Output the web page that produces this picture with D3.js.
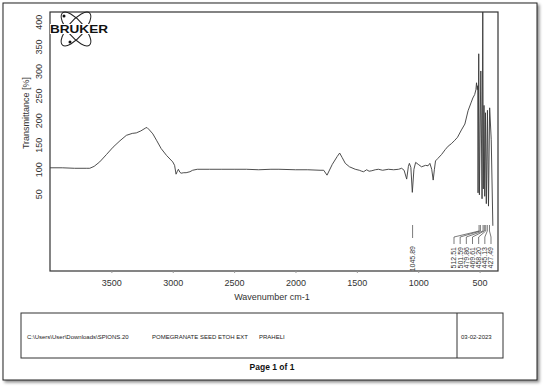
<!DOCTYPE html>
<html>
<head>
<meta charset="utf-8">
<script src="https://cdn.jsdelivr.net/npm/d3@7"></script>
<style>
  body { margin: 0; background: #fff; }
  svg { display: block; font-family: "Liberation Sans", Arial, sans-serif; }
</style>
</head>
<body>
<div id="chart"></div>
<script>
// spectrum (wavenumber cm-1, transmittance %)
const wavenumbers = [4000, 3900, 3800, 3700, 3676, 3640, 3595, 3540, 3486, 3430, 3378, 3330, 3297, 3260, 3221, 3210, 3190, 3162, 3130, 3094, 3050, 3000, 2985, 2973, 2962, 2954, 2942, 2932, 2910, 2891, 2860, 2838, 2800, 2700, 2600, 2500, 2400, 2300, 2200, 2135, 2000, 1900, 1800, 1770, 1743, 1700, 1660, 1640, 1620, 1594, 1560, 1513, 1480, 1460, 1445, 1420, 1400, 1378, 1350, 1324, 1290, 1243, 1200, 1160, 1135, 1115, 1094, 1080, 1072, 1060, 1048, 1035, 1021, 1000, 973, 940, 920, 905, 890, 878, 868, 859, 840, 810, 780, 756, 730, 702, 680, 648, 620, 594, 570, 555, 540, 530, 525, 519, 515, 512.5, 507, 501.6, 490, 479.9, 474, 469.6, 464, 458.2, 452, 445.1, 436, 427.5, 418, 405, 392];
const transmittance = [103, 103, 102, 102, 102, 106, 115, 130, 145, 158, 169, 173, 174, 178, 184, 185, 180, 172, 158, 142, 128, 115, 108, 90, 96, 100, 94, 92, 93, 93, 95, 98, 100, 100, 100, 100, 100, 99, 100, 100, 99, 99, 98, 98, 88, 110, 126, 133, 124, 112, 105, 100, 98, 96, 95, 99, 96, 97, 99, 100, 98, 100, 99, 100, 102, 98, 80, 106, 112, 104, 53, 100, 114, 110, 105, 108, 107, 112, 100, 78, 100, 117, 122, 130, 140, 147, 152, 159, 165, 180, 192, 219, 235, 245, 252, 262, 276, 262, 270, 52, 335, 48, 300, 40, 440, 60, 230, 45, 215, 30, 220, 25, 225, 160, -15];

const xTicks = [3500, 3000, 2500, 2000, 1500, 1000, 500];
const yTicks = [50, 100, 150, 200, 250, 300, 350, 400];
const peakSingle = [1045.89];
const peakGroup = [512.51, 501.59, 479.86, 469.61, 458.20, 445.13, 427.49];
const footerFields = ["C:\\Users\\User\\Downloads\\SPIONS.20", "POMEGRANATE SEED ETOH EXT", "PRAHELI"];
const footerDate = "03-02-2023";

const width = 546, height = 387;
const plot = { left: 50, right: 498, top: 12, bottom: 271 };

const svg = d3.select("#chart").append("svg")
  .attr("width", width).attr("height", height);

// page frame with shadow
const defs = svg.append("defs");
defs.append("filter").attr("id", "shadow")
  .attr("x", "-5%").attr("y", "-5%").attr("width", "110%").attr("height", "110%")
  .append("feDropShadow")
  .attr("dx", 2).attr("dy", 2).attr("stdDeviation", 1.5)
  .attr("flood-color", "#000").attr("flood-opacity", 0.45);
defs.append("clipPath").attr("id", "plotclip")
  .append("rect")
  .attr("x", plot.left).attr("y", plot.top)
  .attr("width", plot.right - plot.left).attr("height", plot.bottom - plot.top);

svg.append("rect")
  .attr("x", 3).attr("y", 3).attr("width", 534).attr("height", 377)
  .attr("fill", "#fff").attr("stroke", "#222").attr("stroke-width", 1)
  .attr("filter", "url(#shadow)");

const x = d3.scaleLinear().domain([4000, 350]).range([plot.left, plot.right]);
const y = d3.scaleLinear().domain([-107, 420]).range([plot.bottom, plot.top]);

// plot box
svg.append("rect")
  .attr("x", plot.left).attr("y", plot.top)
  .attr("width", plot.right - plot.left).attr("height", plot.bottom - plot.top)
  .attr("fill", "none").attr("stroke", "#333").attr("stroke-width", 1.2);

// x axis
const xAxis = svg.append("g")
  .attr("transform", `translate(0,${plot.bottom})`)
  .call(d3.axisBottom(x).tickValues(xTicks).tickFormat(d3.format("d"))
    .tickSize(2).tickSizeOuter(0).tickPadding(7));
xAxis.select(".domain").remove();
xAxis.selectAll("line").attr("stroke", "#999");
xAxis.selectAll("text").attr("font-size", 9).attr("fill", "#333")
  .attr("font-family", "Liberation Sans, Arial, sans-serif");

// y axis, labels rotated
const yAxis = svg.append("g")
  .attr("transform", `translate(${plot.left},0)`)
  .call(d3.axisLeft(y).tickValues(yTicks).tickSize(0).tickSizeOuter(0));
yAxis.select(".domain").remove();
yAxis.selectAll("text")
  .attr("font-size", 9).attr("fill", "#333")
  .attr("font-family", "Liberation Sans, Arial, sans-serif")
  .attr("text-anchor", "middle")
  .attr("transform", `translate(${39 - plot.left},0) rotate(-90)`)
  .attr("x", 0).attr("y", 0).attr("dy", "0.35em");

svg.append("text")
  .attr("transform", `translate(26,113) rotate(-90)`)
  .attr("text-anchor", "middle").attr("dy", "0.35em")
  .attr("font-size", 9).attr("fill", "#333")
  .text("Transmittance [%]");

svg.append("text")
  .attr("x", 272).attr("y", 300)
  .attr("text-anchor", "middle")
  .attr("font-size", 9).attr("fill", "#333")
  .text("Wavenumber cm-1");

// spectrum
const pts = wavenumbers.map((w, i) => [w, transmittance[i]]);
const line = d3.line().x(d => x(d[0])).y(d => y(d[1]));
svg.append("path")
  .datum(pts)
  .attr("clip-path", "url(#plotclip)")
  .attr("d", line)
  .attr("fill", "none").attr("stroke", "#3a3a3a").attr("stroke-width", 0.9);

// peak labels
const peaks = svg.append("g").attr("stroke", "#444").attr("stroke-width", 0.7).attr("fill", "none");
peakSingle.forEach(p => {
  peaks.append("line").attr("x1", x(p)).attr("x2", x(p)).attr("y1", 225).attr("y2", 238);
  svg.append("text")
    .attr("transform", `translate(${x(p)},246) rotate(-90)`)
    .attr("text-anchor", "end").attr("dy", "0.35em")
    .attr("font-size", 7).attr("fill", "#333")
    .text(p.toFixed(2));
});
const labelX = d3.scaleLinear().domain([0, peakGroup.length - 1]).range([454, 491]);
peakGroup.forEach((p, i) => {
  const px = x(p) + 1, lx = labelX(i);
  peaks.append("path")
    .attr("d", `M${px},225 L${px},231 L${lx},237 L${lx},244`);
  svg.append("text")
    .attr("transform", `translate(${lx},247) rotate(-90)`)
    .attr("text-anchor", "end").attr("dy", "0.35em")
    .attr("font-size", 7).attr("fill", "#333")
    .text(p.toFixed(2));
});

// logo
const logo = svg.append("g").attr("transform", "translate(76,29)");
[-50, 50].forEach(a => {
  logo.append("ellipse").attr("rx", 21).attr("ry", 8)
    .attr("transform", `rotate(${a})`)
    .attr("fill", "none").attr("stroke", "#222").attr("stroke-width", 1);
});
logo.append("rect").attr("x", -26).attr("y", -5).attr("width", 58).attr("height", 10).attr("fill", "#fff");
logo.append("text").attr("x", -26).attr("y", 4)
  .attr("textLength", 58).attr("lengthAdjust", "spacingAndGlyphs")
  .attr("font-size", 11.5).attr("font-weight", "bold").attr("fill", "#111")
  .text("BRUKER");
[[-12, -13], [-6, 13]].forEach(c => {
  logo.append("circle").attr("cx", c[0]).attr("cy", c[1]).attr("r", 1.5).attr("fill", "#111");
});

// footer
const foot = svg.append("g");
foot.append("rect").attr("x", 21).attr("y", 313).attr("width", 482).attr("height", 45)
  .attr("fill", "none").attr("stroke", "#333").attr("stroke-width", 1);
foot.append("line").attr("x1", 457).attr("x2", 457).attr("y1", 313).attr("y2", 358)
  .attr("stroke", "#333").attr("stroke-width", 1);
const footX = [27, 152, 259];
footerFields.forEach((t, i) => {
  foot.append("text").attr("x", footX[i]).attr("y", 339)
    .attr("font-size", 6).attr("fill", "#222").text(t);
});
foot.append("text").attr("x", 461).attr("y", 339)
  .attr("font-size", 6).attr("fill", "#222").text(footerDate);
svg.append("text").attr("x", 272).attr("y", 370)
  .attr("text-anchor", "middle").attr("font-size", 8.5).attr("font-weight", "bold")
  .attr("fill", "#111").text("Page 1 of 1");
</script>
</body>
</html>
